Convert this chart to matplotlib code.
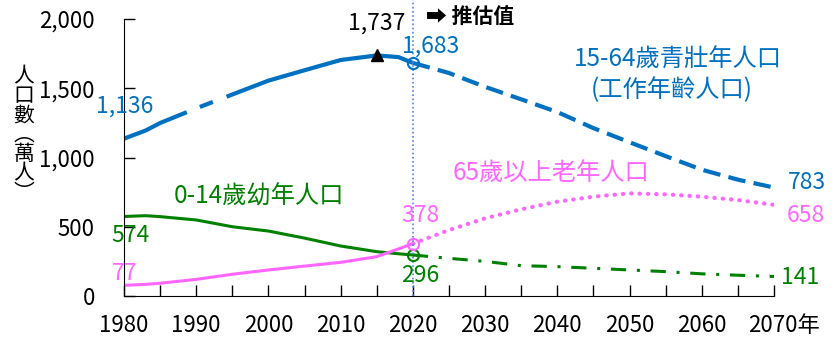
import matplotlib
matplotlib.use("Agg")
import matplotlib.pyplot as plt
import matplotlib.transforms as mtransforms
import numpy as np

plt.rcParams['font.family'] = ['Noto Sans CJK TC', 'DejaVu Sans']

# historical (萬人)
hist_years = [1980, 1983, 1985, 1990, 1995, 2000, 2005, 2010, 2015, 2018, 2020]
work_hist = [1136, 1195, 1249, 1355, 1455, 1555, 1630, 1704, 1737, 1725, 1683]
child_hist = [574, 580, 573, 549, 500, 469, 418, 361, 320, 305, 296]
old_hist = [77, 84, 92, 120, 157, 188, 216, 243, 284, 340, 378]

# projections
proj_years = [2020, 2025, 2030, 2035, 2040, 2045, 2050, 2055, 2060, 2065, 2070]
work_proj = [1683, 1610, 1510, 1420, 1328, 1212, 1110, 1010, 912, 840, 783]
child_proj = [296, 272, 250, 219, 212, 200, 188, 176, 160, 150, 141]
old_proj = [378, 476, 561, 626, 681, 717, 741, 734, 717, 693, 658]

xticks_major = [1980, 1990, 2000, 2010, 2020, 2030, 2040, 2050, 2060, 2070]
xtick_labels = ['1980', '1990', '2000', '2010', '2020', '2030', '2040', '2050', '2060', '2070年']
yticks = [0, 500, 1000, 1500, 2000]
ytick_labels = ['0', '500', '1,000', '1,500', '2,000']

BLUE = '#0070C0'
GREEN = '#008000'
PINK = '#FF66FF'

W, H = 834, 344
fig = plt.figure(figsize=(W / 100, H / 100), dpi=100)
ax = fig.add_axes([124 / W, 1 - 296 / H, (774 - 124) / W, (296 - 19) / H])

# working-age historical line, drawn with the small gaps seen in the reference
hy = np.array(hist_years, dtype=float)
wh = np.array(work_hist, dtype=float)
for a, b in [(1980, 1988.7), (1990.5, 1992.3), (1994.2, 2020)]:
    sel = (hy > a) & (hy < b)
    xs = np.concatenate([[a], hy[sel], [b]])
    ys = np.interp(xs, hy, wh)
    ax.plot(xs, ys, color=BLUE, lw=3, solid_capstyle='butt')
ax.plot(proj_years, work_proj, color=BLUE, lw=3, dashes=(4.2, 2.0))

ax.plot(hist_years, child_hist, color=GREEN, lw=2.2)
ax.plot(proj_years, child_proj, color=GREEN, lw=2.2, dashes=(5, 3.5, 1, 3.5))

ax.plot(hist_years, old_hist, color=PINK, lw=2.2)
ax.plot(proj_years, old_proj, color=PINK, lw=3, dashes=(0.1, 1.9), dash_capstyle='round')

# open circles at 2020
for v, c in [(work_proj[0], BLUE), (child_proj[0], GREEN), (old_proj[0], PINK)]:
    ax.plot([2020], [v], marker='o', ms=8, mfc='none', mec=c, mew=1.5, zorder=6)

# peak triangle
ax.plot([2015], [1737], marker='^', ms=8, color='black', zorder=5)

# vertical dotted line
ax.axvline(2020, ymin=0, ymax=1.07, color='#4A86E8', lw=1.2, ls=(0, (1, 1.5)), clip_on=False)

ax.set_xlim(1980, 2070)
ax.set_ylim(0, 2000)
ax.spines['top'].set_visible(False)
ax.spines['right'].set_visible(False)
tick_pos = list(range(1980, 2071, 5))
ax.set_xticks(tick_pos)
ax.set_xticklabels([xtick_labels[xticks_major.index(y)] if y in xticks_major else '' for y in tick_pos])
ax.set_yticks(yticks)
ax.set_yticklabels(ytick_labels)
ax.tick_params(axis='both', direction='in', length=8, width=1, labelsize=16)
ax.tick_params(axis='x', pad=13)
ax.tick_params(axis='y', pad=21)
for lbl in ax.get_xticklabels():
    if lbl.get_text() == '2070年':
        lbl.set_horizontalalignment('left')
        lbl.set_transform(lbl.get_transform() + mtransforms.ScaledTranslation(-26 / 100, 0, fig.dpi_scale_trans))

def ftext(x, y, s, color, size=16.5, **kw):
    fig.text(x / W, 1 - y / H, s, color=color, fontsize=size, ha='center', va='center', **kw)

ftext(125, 106, '1,136', BLUE)
ftext(377, 23, '1,737', 'black')
ftext(470, 16, '➡ 推估值', 'black', size=15, fontweight='bold')
ftext(431, 46, '1,683', BLUE)
ftext(678, 60, '15-64歲青壯年人口', BLUE, size=17.5)
ftext(672, 90, '(工作年齡人口)', BLUE, size=17.5)
ftext(551, 174, '65歲以上老年人口', PINK, size=17.5)
ftext(807, 182, '783', BLUE)
ftext(806, 215, '658', PINK)
ftext(800, 277, '141', GREEN)
ftext(420, 216, '378', PINK)
ftext(420, 276, '296', GREEN)
ftext(259, 196, '0-14歲幼年人口', GREEN, size=17.5)
ftext(130, 236, '574', GREEN)
ftext(125, 273, '77', PINK)

fig.text(24 / W, 1 - 135 / H, '人\n口\n數\n︵\n萬\n人\n︶', fontsize=15, ha='center', va='center', linespacing=0.85)

fig.savefig('out.png', dpi=100)
